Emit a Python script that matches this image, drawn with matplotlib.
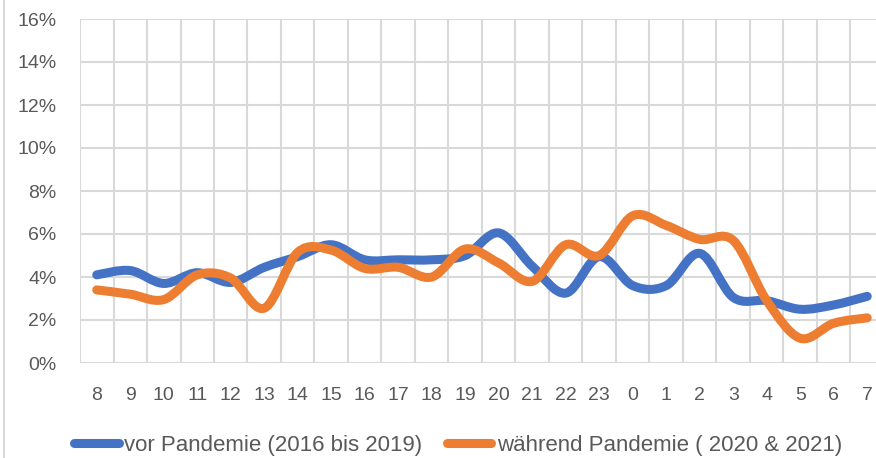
import numpy as np
import matplotlib.pyplot as plt
from matplotlib.path import Path
from matplotlib.patches import PathPatch
from matplotlib.lines import Line2D

# Daten
stunden = ['8', '9', '10', '11', '12', '13', '14', '15', '16', '17', '18', '19',
           '20', '21', '22', '23', '0', '1', '2', '3', '4', '5', '6', '7']
vor = [4.1, 4.3, 3.7, 4.2, 3.75, 4.45, 4.95, 5.5, 4.8, 4.8, 4.8, 5.0,
       6.05, 4.5, 3.25, 4.95, 3.6, 3.6, 5.1, 3.05, 2.9, 2.5, 2.7, 3.1]
waehrend = [3.4, 3.2, 2.95, 4.1, 3.95, 2.55, 5.15, 5.25, 4.4, 4.45, 4.0, 5.3,
            4.65, 3.8, 5.5, 5.0, 6.85, 6.4, 5.75, 5.7, 2.9, 1.15, 1.85, 2.1]
namen = ['vor Pandemie (2016 bis 2019)', 'während Pandemie ( 2020 & 2021)']
farben = ['#4472C4', '#ED7D31']

plt.rcParams['font.family'] = ['Liberation Sans', 'DejaVu Sans']
grau = '#595959'
gitter = '#D9D9D9'


# geglaettete Linie wie in Excel (Bezier mit Kontrollpunkten)
def glatte_linie(y):
    x = np.arange(len(y), dtype=float)
    y = np.asarray(y, dtype=float) / 100
    pts = np.column_stack([x, y])
    p = np.vstack([pts[0], pts, pts[-1]])
    verts = [pts[0]]
    codes = [Path.MOVETO]
    for i in range(len(pts) - 1):
        a, b, c, d = p[i], p[i + 1], p[i + 2], p[i + 3]
        verts += [b + (c - a) / 6, c - (d - b) / 6, c]
        codes += [Path.CURVE4] * 3
    return Path(verts, codes)


fig = plt.figure(figsize=(8.76, 4.58), dpi=100)
ax = fig.add_axes([80 / 876, 95 / 458, 804 / 876, 344 / 458])

for werte, farbe in zip([vor, waehrend], farben):
    ax.add_patch(PathPatch(glatte_linie(werte), fill=False, edgecolor=farbe,
                           lw=6.5, capstyle='round', joinstyle='round', zorder=3))

ax.set_xlim(-0.5, len(stunden) - 0.5)
ax.set_ylim(0, 0.16)
ax.set_xticks(range(len(stunden)))
ax.set_xticklabels(stunden)
ax.set_xticks(np.arange(-0.5, len(stunden)), minor=True)
ax.set_yticks(np.arange(0, 0.161, 0.02))
ax.set_yticklabels([f'{int(round(v * 100))}%' for v in np.arange(0, 0.161, 0.02)])
ax.grid(True, which='minor', axis='x', color=gitter, lw=1.5)
ax.grid(True, which='major', axis='y', color=gitter, lw=1.5)
ax.tick_params(which='both', length=0)
ax.tick_params(axis='y', pad=17, labelsize=14, labelcolor=grau)
ax.tick_params(axis='x', pad=17, labelsize=14, labelcolor=grau)
for s in ax.spines.values():
    s.set_visible(False)
ax.set_axisbelow(True)

# Rahmen links
fig.add_artist(Line2D([4 / 876, 4 / 876], [0, 1], color=gitter, lw=1.5))

handles = [Line2D([], [], color=f, lw=6.5, solid_capstyle='round') for f in farben]
fig.legend(handles, namen, loc='center', bbox_to_anchor=(458 / 876, 13 / 458),
           ncol=2, frameon=False, fontsize=16, labelcolor=grau,
           handlelength=2.0, handletextpad=0.25, columnspacing=1.1)

fig.savefig('out.png', dpi=100)
